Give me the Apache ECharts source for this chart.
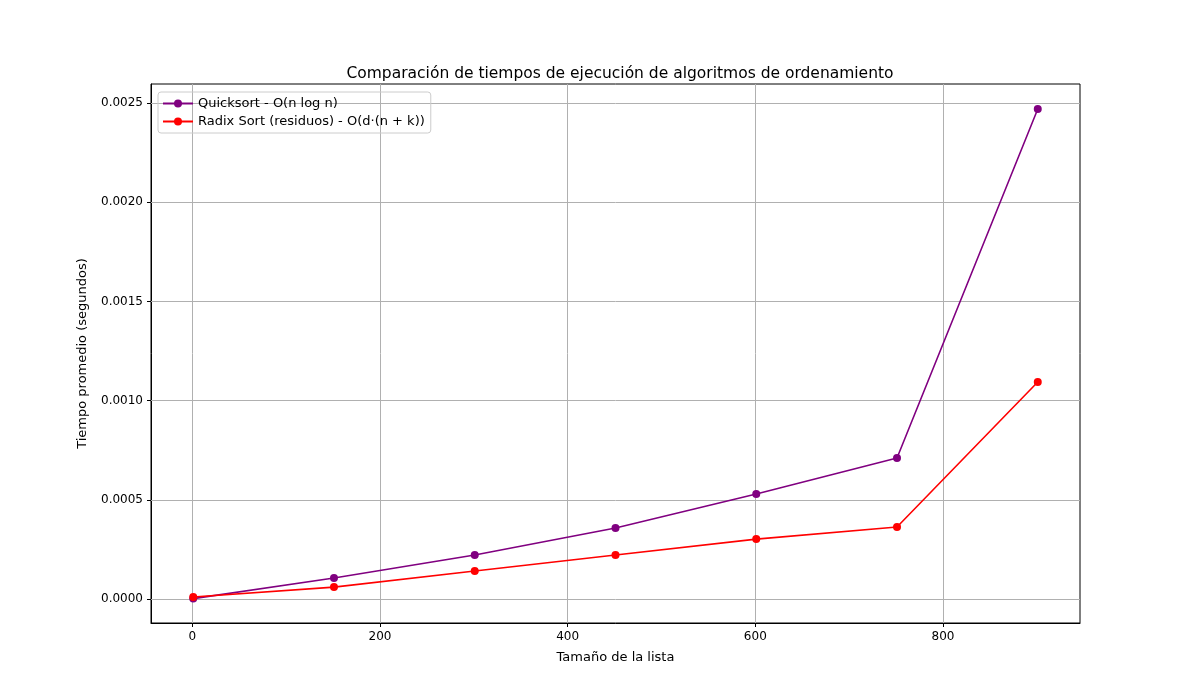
<!DOCTYPE html>
<html lang="es">
<head>
<meta charset="UTF-8" />
<title>Comparación de tiempos</title>
<script src="https://cdn.jsdelivr.net/npm/echarts@6/dist/echarts.min.js"></script>
<style>
  body { margin: 0; background: #fff; }
  #chart { width: 1200px; height: 700px; }
</style>
</head>
<body>
<div id="chart"></div>
<script>
  // data
  const sizes = [1, 151, 301, 451, 601, 751, 901];
  const quicksort = [0.000002, 0.000106, 0.000222, 0.000358, 0.000529, 0.000711, 0.00247];
  const radix = [0.00001, 0.00006, 0.000141, 0.000222, 0.000302, 0.000363, 0.001094];
  const xTicks = [0, 200, 400, 600, 800];
  const yTicks = [0, 0.0005, 0.001, 0.0015, 0.002, 0.0025];

  const font = "DejaVu Sans";
  const gridLine = { color: "#b0b0b0", width: 1, type: "solid" };

  const chart = echarts.init(document.getElementById("chart"));
  chart.setOption({
    animation: false,
    textStyle: { fontFamily: font },
    title: {
      text: "Comparación de tiempos de ejecución de algoritmos de ordenamiento",
      left: 615, top: 61, textAlign: "center",
      textStyle: { fontFamily: font, fontSize: 15.5, fontWeight: "normal", color: "#000" }
    },
    legend: {
      left: 158, top: 92, orient: "vertical", itemGap: 5,
      itemWidth: 30, itemHeight: 10,
      padding: [5, 6, 5, 4],
      borderColor: "#ccc", borderWidth: 1, borderRadius: 3,
      textStyle: { fontFamily: font, fontSize: 13, color: "#000" }
    },
    grid: {
      left: 151, right: 120, top: 84, bottom: 77,
      show: true, borderColor: "#000", borderWidth: 1
    },
    xAxis: {
      type: "value", min: -44, max: 946,
      name: "Tamaño de la lista", nameLocation: "middle", nameGap: 28,
      nameTextStyle: { fontFamily: font, fontSize: 13, color: "#000" },
      axisLine: { show: true, onZero: false, lineStyle: { color: "#000" } },
      axisTick: { show: true, customValues: xTicks, length: 4, lineStyle: { color: "#000" } },
      axisLabel: { customValues: xTicks, color: "#000", fontSize: 12, margin: 8 },
      splitLine: { show: false }
    },
    yAxis: {
      type: "value", min: -0.000121, max: 0.002596,
      name: "Tiempo promedio (segundos)", nameLocation: "middle", nameGap: 62,
      nameTextStyle: { fontFamily: font, fontSize: 13, color: "#000" },
      axisLine: { show: true, onZero: false, lineStyle: { color: "#000" } },
      axisTick: { show: true, customValues: yTicks, length: 4, lineStyle: { color: "#000" } },
      axisLabel: { customValues: yTicks, color: "#000", fontSize: 12, margin: 8,
        formatter: v => v.toFixed(4) },
      splitLine: { show: false }
    },
    series: [
      {
        name: "Quicksort - O(n log n)", type: "line",
        data: sizes.map((s, i) => [s, quicksort[i]]),
        color: "#800080", symbol: "circle", symbolSize: 8,
        lineStyle: { width: 1.6 }, z: 3,
        markLine: {
          silent: true, symbol: "none", label: { show: false },
          lineStyle: gridLine, z: 1,
          data: xTicks.map(v => ({ xAxis: v }))
        }
      },
      {
        name: "Radix Sort (residuos) - O(d·(n + k))", type: "line",
        data: sizes.map((s, i) => [s, radix[i]]),
        color: "#ff0000", symbol: "circle", symbolSize: 8,
        lineStyle: { width: 1.6 }, z: 4,
        markLine: {
          silent: true, symbol: "none", label: { show: false },
          lineStyle: gridLine, z: 1,
          data: yTicks.map(v => [
            { coord: [-44, v] },
            { coord: [946, v] }
          ])
        }
      }
    ]
  });
</script>
</body>
</html>
